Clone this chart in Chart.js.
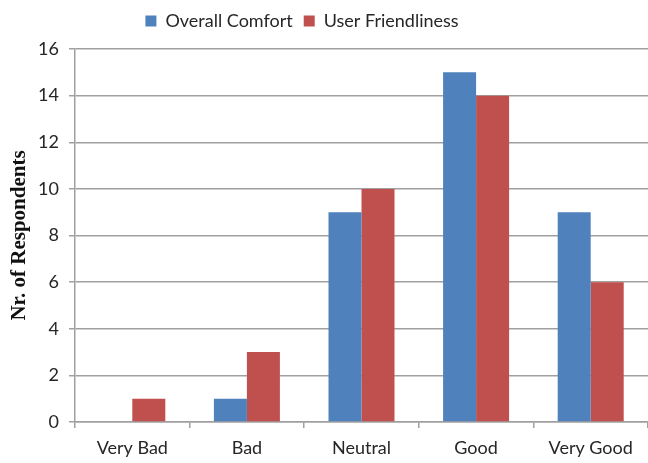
<!DOCTYPE html>
<html>
<head>
<meta charset="utf-8">
<script src="https://cdn.jsdelivr.net/npm/chart.js@4/dist/chart.umd.min.js"></script>
<style>
    html, body { margin: 0; padding: 0; background: #fff; }
    #wrap { width: 648px; height: 463px; }
</style>
</head>
<body>
<div id="wrap"><canvas id="myChart" width="648" height="463"></canvas></div>
<script>
const categories = ['Very Bad', 'Bad', 'Neutral', 'Good', 'Very Good'];
const overallComfort = [0, 1, 9, 15, 9];
const userFriendliness = [1, 3, 10, 14, 6];
const yTicks = [0, 2, 4, 6, 8, 10, 12, 14, 16];

const textColor = '#262626';
const gridColor = '#a0a0a0';

// nudge the legend up and to the left, like in the original
const legendShift = {
    id: 'legendShift',
    afterLayout(chart) {
        chart.legend.left -= 22;
        chart.legend.right -= 22;
        chart.legend.top -= 9;
        chart.legend.bottom -= 9;
    }
};

var ctx = document.getElementById('myChart').getContext('2d');
var chart = new Chart(ctx, {
    type: 'bar',
    data: {
        labels: categories,
        datasets: [{
            label: 'Overall Comfort',
            data: overallComfort,
            backgroundColor: '#4f81bd',
            barPercentage: 1,
            categoryPercentage: 0.576
        }, {
            label: 'User Friendliness',
            data: userFriendliness,
            backgroundColor: '#c0504d',
            barPercentage: 1,
            categoryPercentage: 0.576
        }]
    },
    options: {
        responsive: false,
        animation: false,
        layout: {
            padding: { top: 10, right: 0, left: 0, bottom: 0 }
        },
        plugins: {
            tooltip: { enabled: false },
            legend: {
                position: 'top',
                labels: {
                    color: textColor,
                    boxWidth: 11,
                    boxHeight: 11,
                    padding: 11,
                    font: { family: 'Lato', size: 18 }
                }
            }
        },
        scales: {
            x: {
                grid: {
                    offset: true,
                    drawOnChartArea: false,
                    color: gridColor,
                    lineWidth: 1.5,
                    tickLength: 6
                },
                border: { color: gridColor, width: 1.5 },
                ticks: {
                    color: textColor,
                    padding: 9,
                    maxRotation: 0,
                    font: { family: 'Lato', size: 18 }
                },
                afterFit(scale) { scale.height = 41; }
            },
            y: {
                min: 0,
                max: 16,
                afterBuildTicks(scale) {
                    scale.ticks = yTicks.map(v => ({ value: v }));
                },
                grid: {
                    color: gridColor,
                    lineWidth: 1.5,
                    tickLength: 6
                },
                border: { color: gridColor, width: 1.5 },
                ticks: {
                    color: textColor,
                    padding: 10,
                    font: { family: 'Lato', size: 18 }
                },
                title: {
                    display: true,
                    text: 'Nr. of Respondents',
                    color: '#111',
                    padding: { top: 7, bottom: 0 },
                    font: { family: 'Liberation Serif', weight: 'bold', size: 21 }
                },
                afterFit(scale) { scale.width = 75; }
            }
        }
    },
    plugins: [legendShift]
});
</script>
</body>
</html>
